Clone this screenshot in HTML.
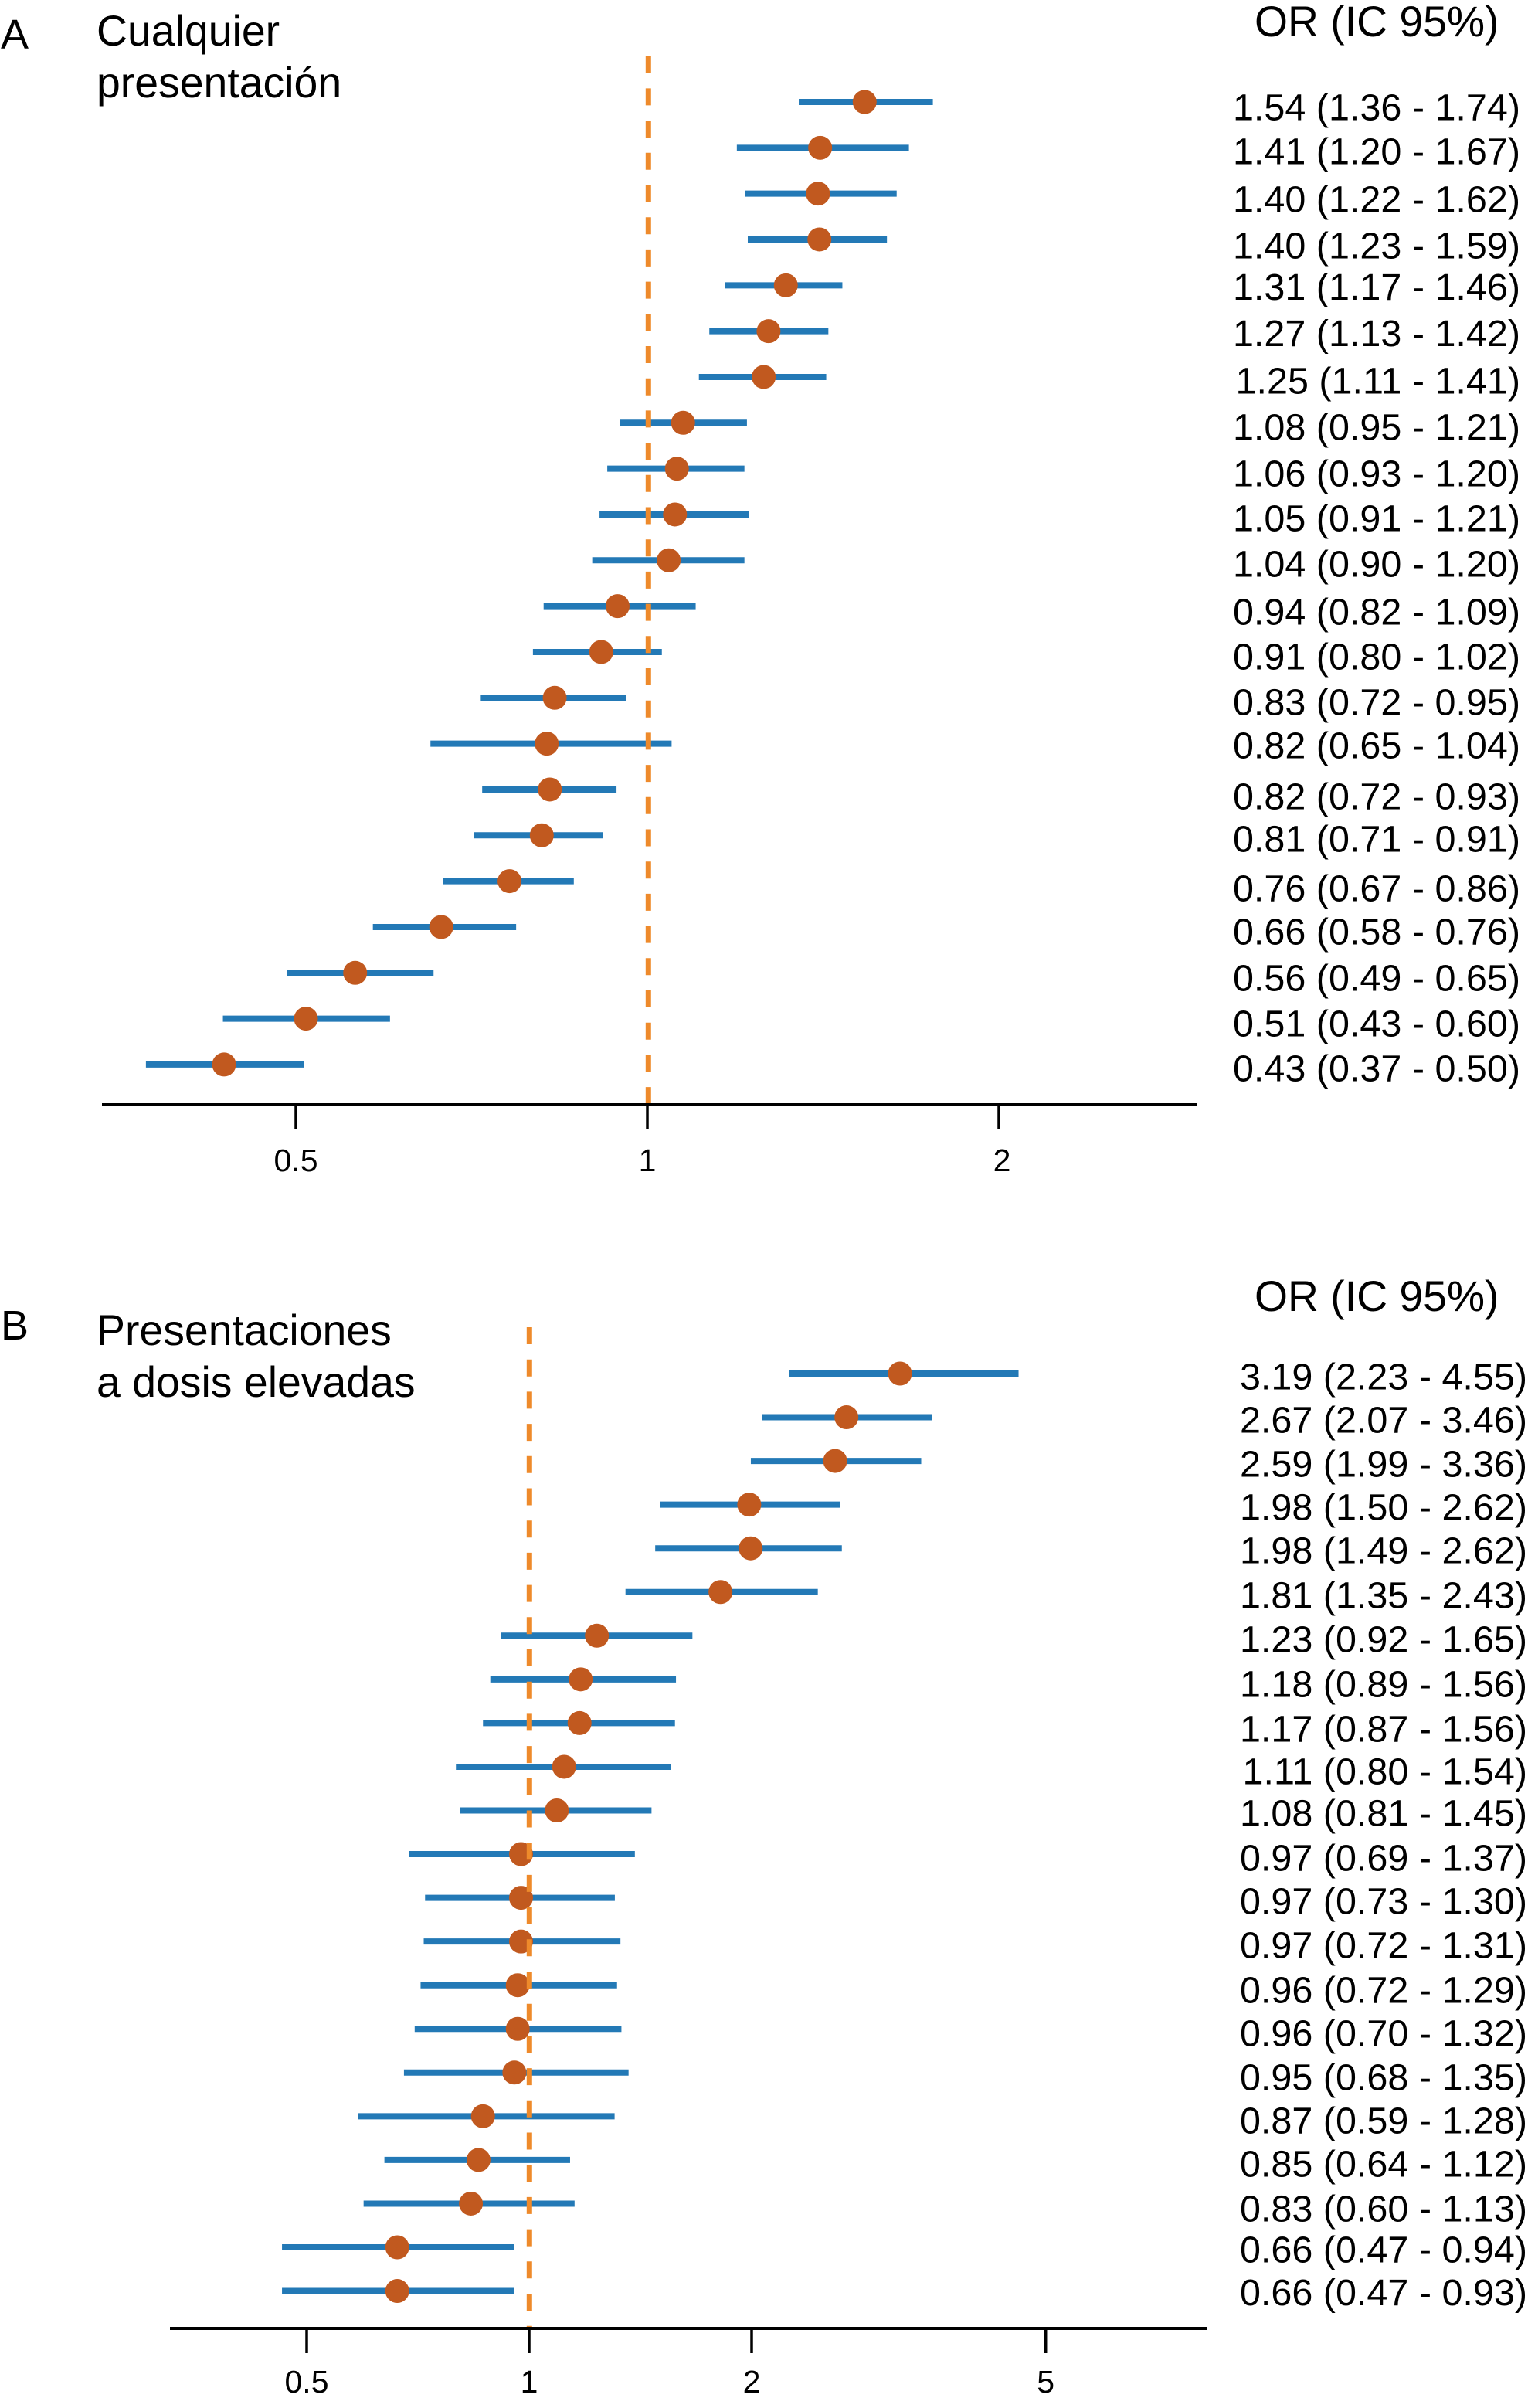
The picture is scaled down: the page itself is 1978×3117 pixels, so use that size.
<!DOCTYPE html>
<html lang="es">
<head>
<meta charset="utf-8">
<title>Forest plot OR (IC 95%)</title>
<style>
html,body{margin:0;padding:0;background:#fff;}
svg{display:block;}
text{font-family:"Liberation Sans",Arial,sans-serif;fill:#000;}
</style>
</head>
<body>
<svg id="figure" xmlns="http://www.w3.org/2000/svg" width="1978" height="3117" viewBox="0 0 1978 3117">
  <rect x="0" y="0" width="1978" height="3117" fill="#fff"/>
  <text x="1" y="63" font-size="54">A</text>
  <text x="125" y="59" font-size="55.4">Cualquier</text>
  <text x="125" y="126" font-size="55.4">presentación</text>
  <text x="1624" y="47" font-size="55.3">OR (IC 95%)</text>
  <text x="1" y="1734" font-size="54">B</text>
  <text x="125" y="1741" font-size="55.4">Presentaciones</text>
  <text x="125" y="1808" font-size="55.4">a dosis elevadas</text>
  <text x="1624" y="1697" font-size="55.3">OR (IC 95%)</text>
  <g id="panel-a"></g>
  <g id="panel-b"></g>
</svg>
<script>
// Panel A data: plotted values
const orA = [1.535,1.406,1.40,1.404,1.314,1.27,1.258,1.073,1.06,1.056,1.043,0.943,0.913,0.833,0.82,0.825,0.812,0.762,0.666,0.562,0.51,0.434];
const lowA = [1.348,1.193,1.213,1.219,1.166,1.13,1.107,0.947,0.924,0.91,0.897,0.815,0.798,0.72,0.652,0.722,0.71,0.668,0.582,0.491,0.433,0.372];
const highA = [1.756,1.675,1.635,1.604,1.469,1.429,1.423,1.217,1.211,1.221,1.211,1.10,1.029,0.959,1.049,0.941,0.916,0.865,0.772,0.656,0.602,0.508];
const ticksA = [0.5,1,2];
const tickLabelsA = ['0.5','1','2'];
const printedA = [
  '1.54 (1.36 - 1.74)','1.41 (1.20 - 1.67)','1.40 (1.22 - 1.62)','1.40 (1.23 - 1.59)',
  '1.31 (1.17 - 1.46)','1.27 (1.13 - 1.42)','1.25 (1.11 - 1.41)','1.08 (0.95 - 1.21)',
  '1.06 (0.93 - 1.20)','1.05 (0.91 - 1.21)','1.04 (0.90 - 1.20)','0.94 (0.82 - 1.09)',
  '0.91 (0.80 - 1.02)','0.83 (0.72 - 0.95)','0.82 (0.65 - 1.04)','0.82 (0.72 - 0.93)',
  '0.81 (0.71 - 0.91)','0.76 (0.67 - 0.86)','0.66 (0.58 - 0.76)','0.56 (0.49 - 0.65)',
  '0.51 (0.43 - 0.60)','0.43 (0.37 - 0.50)'
];

// Panel B data: plotted values
const orB = [3.175,2.687,2.594,1.985,1.994,1.815,1.235,1.174,1.17,1.115,1.09,0.975,0.975,0.975,0.965,0.965,0.955,0.866,0.854,0.834,0.663,0.663];
const lowB = [2.246,2.065,1.995,1.505,1.481,1.35,0.917,0.886,0.866,0.796,0.806,0.687,0.723,0.72,0.713,0.70,0.677,0.587,0.637,0.597,0.463,0.463];
const highB = [4.594,3.51,3.392,2.636,2.649,2.458,1.663,1.58,1.575,1.555,1.464,1.39,1.306,1.329,1.315,1.333,1.363,1.305,1.136,1.152,0.954,0.953];
const ticksB = [0.5,1,2,5];
const tickLabelsB = ['0.5','1','2','5'];
const printedB = [
  '3.19 (2.23 - 4.55)','2.67 (2.07 - 3.46)','2.59 (1.99 - 3.36)','1.98 (1.50 - 2.62)',
  '1.98 (1.49 - 2.62)','1.81 (1.35 - 2.43)','1.23 (0.92 - 1.65)','1.18 (0.89 - 1.56)',
  '1.17 (0.87 - 1.56)','1.11 (0.80 - 1.54)','1.08 (0.81 - 1.45)','0.97 (0.69 - 1.37)',
  '0.97 (0.73 - 1.30)','0.97 (0.72 - 1.31)','0.96 (0.72 - 1.29)','0.96 (0.70 - 1.32)',
  '0.95 (0.68 - 1.35)','0.87 (0.59 - 1.28)','0.85 (0.64 - 1.12)','0.83 (0.60 - 1.13)',
  '0.66 (0.47 - 0.94)','0.66 (0.47 - 0.93)'
];

// Page layout (not data): printed-value rows were placed by hand in the source figure
const labelBaselinesA = [155.5,212.5,274.5,334.5,388,448,509.5,569.5,629.5,687.5,746.5,808.5,866.5,925.5,981.5,1047.5,1102.5,1166.5,1222.5,1282.5,1341.5,1399.5];
const labelBaselinesB = [1798.5,1854.5,1911.5,1967.5,2023.5,2081.5,2138.5,2196.5,2254.5,2309.5,2363.5,2421.5,2477.5,2534.5,2592.5,2648.5,2705.5,2761.5,2817.5,2875.5,2928.5,2984];
const tickLabelNudgeA = [0,0,4];
const tickLabelNudgeB = [0,0,0,0];

const SVG_NS = 'http://www.w3.org/2000/svg';

function makeLine(parent, x1, y1, x2, y2, color, width) {
  const el = document.createElementNS(SVG_NS, 'line');
  el.setAttribute('x1', x1);
  el.setAttribute('y1', y1);
  el.setAttribute('x2', x2);
  el.setAttribute('y2', y2);
  el.setAttribute('stroke', color);
  el.setAttribute('stroke-width', width);
  parent.appendChild(el);
  return el;
}

function drawPanel(cfg) {
  const root = document.getElementById(cfg.id);
  const xScale = v => cfg.x1 + Math.log2(v) * cfg.xPerDoubling;
  const yScale = i => cfg.rowTop + i * cfg.rowStep;

  cfg.or.forEach((value, i) => {
    const ci = makeLine(root, xScale(cfg.low[i]), yScale(i), xScale(cfg.high[i]), yScale(i), '#2379b6', 8);
    
    
  });

  cfg.or.forEach((value, i) => {
    const dot = document.createElementNS(SVG_NS, 'circle');
    dot.setAttribute('cx', xScale(value));
    dot.setAttribute('cy', yScale(i));
    dot.setAttribute('r', 15.5);
    dot.setAttribute('fill', '#c1591f');
    
    
    root.appendChild(dot);
  });

  const refLine = makeLine(root, xScale(1) + cfg.refShift, cfg.refTop, xScale(1) + cfg.refShift, cfg.axisY, '#ee8a2b', 7);
  refLine.setAttribute('stroke-dasharray', '22 19.7');
  
  

  const axis = makeLine(root, cfg.axisStart, cfg.axisY, cfg.axisEnd, cfg.axisY, '#000', 4);
  
  

  cfg.ticks.forEach((value, i) => {
    const tick = makeLine(root, xScale(value), cfg.axisY, xScale(value), cfg.axisY + 32, '#000', 3.5);
    
    

    const label = document.createElementNS(SVG_NS, 'text');
    label.setAttribute('x', xScale(value) + cfg.tickNudge[i]);
    label.setAttribute('y', cfg.tickLabelY);
    label.setAttribute('font-size', 41);
    label.setAttribute('text-anchor', 'middle');
    label.textContent = cfg.tickLabels[i];
    
    
    root.appendChild(label);
  });

  cfg.printed.forEach((printedText, i) => {
    const text = document.createElementNS(SVG_NS, 'text');
    text.setAttribute('x', cfg.labelRight);
    text.setAttribute('y', cfg.labelBaselines[i]);
    text.setAttribute('font-size', 48.5);
    text.setAttribute('text-anchor', 'end');
    text.textContent = printedText;
    
    
    root.appendChild(text);
  });
}

drawPanel({
  id: 'panel-a', or: orA, low: lowA, high: highA, ticks: ticksA, tickLabels: tickLabelsA, printed: printedA,
  tickNudge: tickLabelNudgeA, labelBaselines: labelBaselinesA, x1: 838, xPerDoubling: 455,
  rowTop: 132, rowStep: 59.33, refShift: 1.3, refTop: 72.7,
  axisY: 1430, axisStart: 132, axisEnd: 1550, tickLabelY: 1516, labelRight: 1968
});
drawPanel({
  id: 'panel-b', or: orB, low: lowB, high: highB, ticks: ticksB, tickLabels: tickLabelsB, printed: printedB,
  tickNudge: tickLabelNudgeB, labelBaselines: labelBaselinesB, x1: 685, xPerDoubling: 288,
  rowTop: 1778, rowStep: 56.55, refShift: 0.3, refTop: 1718,
  axisY: 3014, axisStart: 220, axisEnd: 1563, tickLabelY: 3097, labelRight: 1977
});
</script>
</body>
</html>
